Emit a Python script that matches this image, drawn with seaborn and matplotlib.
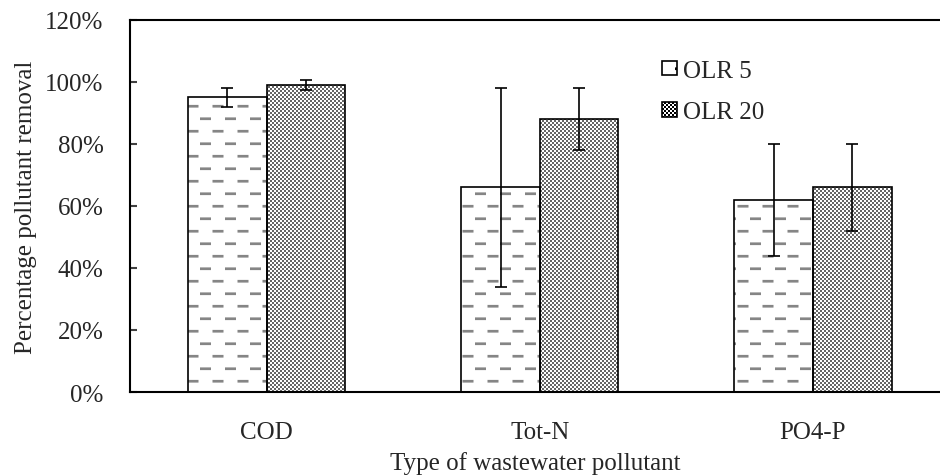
import numpy as np
import pandas as pd
import seaborn as sns
import matplotlib
matplotlib.use("Agg")
import matplotlib.pyplot as plt
from matplotlib import hatch as mhatch
from matplotlib.path import Path
from matplotlib.patches import Patch
from matplotlib.ticker import PercentFormatter

# data
pollutants = ["COD", "Tot-N", "PO4-P"]
loads = ["OLR 5", "OLR 20"]
removal_olr5 = [95, 66, 62]
removal_olr20 = [99, 88, 66]
err_olr5 = [3, 32, 18]
err_olr20 = [1.5, 10, 14]

dash_grey = "#858585"
checker_grey = "#666666"


# custom hatch textures: '-' -> staggered grey dashes, 'o' -> fine checkerboard
class DashRows(mhatch.HatchPatternBase):
    rows, per_row = 8, 4

    def __init__(self, hatch, density):
        self.num_vertices = self.rows * self.per_row * 5 if "-" in hatch else 0

    def set_vertices_and_codes(self, vertices, codes):
        k = 0
        half = 0.0135
        for i in range(self.rows):
            y = (i + 0.5) / self.rows
            shift = 0.5 / self.per_row if i % 2 else 0.0
            for j in range(self.per_row):
                x0 = j / self.per_row + shift
                x1 = x0 + 0.11
                vertices[k:k + 5] = [[x0, y - half], [x1, y - half], [x1, y + half],
                                     [x0, y + half], [x0, y - half]]
                codes[k:k + 5] = [Path.MOVETO, Path.LINETO, Path.LINETO,
                                  Path.LINETO, Path.CLOSEPOLY]
                k += 5


class Checker(mhatch.HatchPatternBase):
    n = 50

    def __init__(self, hatch, density):
        self.num_vertices = (self.n * self.n // 2) * 5 if "o" in hatch else 0

    def set_vertices_and_codes(self, vertices, codes):
        k = 0
        s = 1.0 / self.n
        for i in range(self.n):
            for j in range(self.n):
                if (i + j) % 2:
                    continue
                x0, y0 = j * s, i * s
                vertices[k:k + 5] = [[x0, y0], [x0 + s, y0], [x0 + s, y0 + s],
                                     [x0, y0 + s], [x0, y0]]
                codes[k:k + 5] = [Path.MOVETO, Path.LINETO, Path.LINETO,
                                  Path.LINETO, Path.CLOSEPOLY]
                k += 5


mhatch._hatch_types[:] = [DashRows, Checker]

sns.set_theme(style="white")
plt.rcParams["font.family"] = ["Liberation Serif", "DejaVu Serif"]
plt.rcParams["hatch.linewidth"] = 0.0

df = pd.DataFrame({
    "pollutant": pollutants * 2,
    "olr": [loads[0]] * 3 + [loads[1]] * 3,
    "removal": removal_olr5 + removal_olr20,
})

fig, ax = plt.subplots(figsize=(9.4, 4.77), dpi=100)
fig.subplots_adjust(left=0.1383, right=1.0, bottom=0.1761, top=0.956)

# textured fill
sns.barplot(data=df, x="pollutant", y="removal", hue="olr", hue_order=loads,
            palette=["white", "white"], saturation=1, width=0.575, gap=0,
            linewidth=0, errorbar=None, legend=False, ax=ax)
fill_containers = list(ax.containers)
for cont, htch, col in zip(fill_containers, ["-", "o"], [dash_grey, checker_grey]):
    for bar in cont:
        bar.set_hatch(htch)
        bar.set_edgecolor(col)
        bar.set_linewidth(0)

# black outlines
sns.barplot(data=df, x="pollutant", y="removal", hue="olr", hue_order=loads,
            fill=False, width=0.575, gap=0, edgecolor="black", linewidth=1.2,
            errorbar=None, legend=False, ax=ax)

# error bars
for cont, errs in zip(fill_containers, [err_olr5, err_olr20]):
    xs = [b.get_x() + b.get_width() / 2 for b in cont]
    ys = [b.get_height() for b in cont]
    ax.errorbar(xs, ys, yerr=errs, fmt="none", ecolor="black",
                elinewidth=1.2, capsize=4.5, capthick=1.2, zorder=5)

ax.set_xlim(-0.5, 2.465)
ax.set_ylim(0, 120)
ax.set_yticks(np.arange(0, 121, 20))
ax.yaxis.set_major_formatter(PercentFormatter(100, decimals=0))

for side in ["left", "bottom", "top"]:
    ax.spines[side].set_visible(True)
    ax.spines[side].set_color("black")
    ax.spines[side].set_linewidth(1.5)
ax.spines["right"].set_visible(False)

ax.tick_params(axis="y", direction="in", length=5, width=1.5, color="#404040",
               labelsize=18, pad=19, left=True)
ax.tick_params(axis="x", length=0, labelsize=18, pad=21)

ax.set_xlabel("Type of wastewater pollutant", fontsize=18, labelpad=6)
ax.set_ylabel("Percentage pollutant removal", fontsize=18, labelpad=6)

handles = [Patch(facecolor="white", edgecolor="black", hatch="-", linewidth=1.2),
           Patch(facecolor="white", edgecolor="black", hatch="o", linewidth=1.2)]
ax.legend(handles, loads, loc="upper left", bbox_to_anchor=(0.657, 0.893),
          frameon=False, fontsize=18, handlelength=0.6, handleheight=0.5,
          handletextpad=0.22, labelspacing=0.78, borderpad=0, borderaxespad=0)

fig.savefig("out.png", dpi=100)
